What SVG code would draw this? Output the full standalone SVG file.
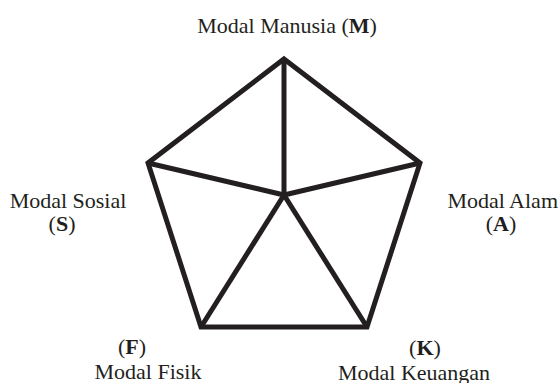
<svg xmlns="http://www.w3.org/2000/svg" width="560" height="383" viewBox="0 0 560 383">
<style>
.lbl{font-family:"Liberation Serif","Times New Roman",serif;font-size:22px;fill:#231f20;text-anchor:middle}
.b{font-weight:bold}
.edge{stroke:#231f20;stroke-width:5;fill:none;stroke-linejoin:miter;stroke-linecap:butt}
</style>
<rect width="560" height="383" fill="#ffffff"/>
<g id="connectors">
<polygon class="edge" points="284,59 420,163 367,327 201,327 148,163"/>
<line class="edge" x1="284" y1="59" x2="284" y2="195"/>
<line class="edge" x1="148" y1="163" x2="284" y2="195"/>
<line class="edge" x1="420" y1="163" x2="284" y2="195"/>
<line class="edge" x1="201" y1="327" x2="284" y2="195"/>
<line class="edge" x1="367" y1="327" x2="284" y2="195"/>
</g>
<g id="node-M"><text class="lbl" x="287" y="33">Modal Manusia (<tspan class="b">M</tspan>)</text></g>
<g id="node-S"><text class="lbl" x="68" y="208">Modal Sosial</text><text class="lbl" x="62" y="231">(<tspan class="b">S</tspan>)</text></g>
<g id="node-A"><text class="lbl" x="558" y="208" style="text-anchor:end">Modal Alam</text><text class="lbl" x="501" y="231">(<tspan class="b">A</tspan>)</text></g>
<g id="node-F"><text class="lbl" x="132" y="354">(<tspan class="b">F</tspan>)</text><text class="lbl" x="148" y="379">Modal Fisik</text></g>
<g id="node-K"><text class="lbl" x="425" y="355">(<tspan class="b">K</tspan>)</text><text class="lbl" x="414" y="380">Modal Keuangan</text></g>
</svg>
